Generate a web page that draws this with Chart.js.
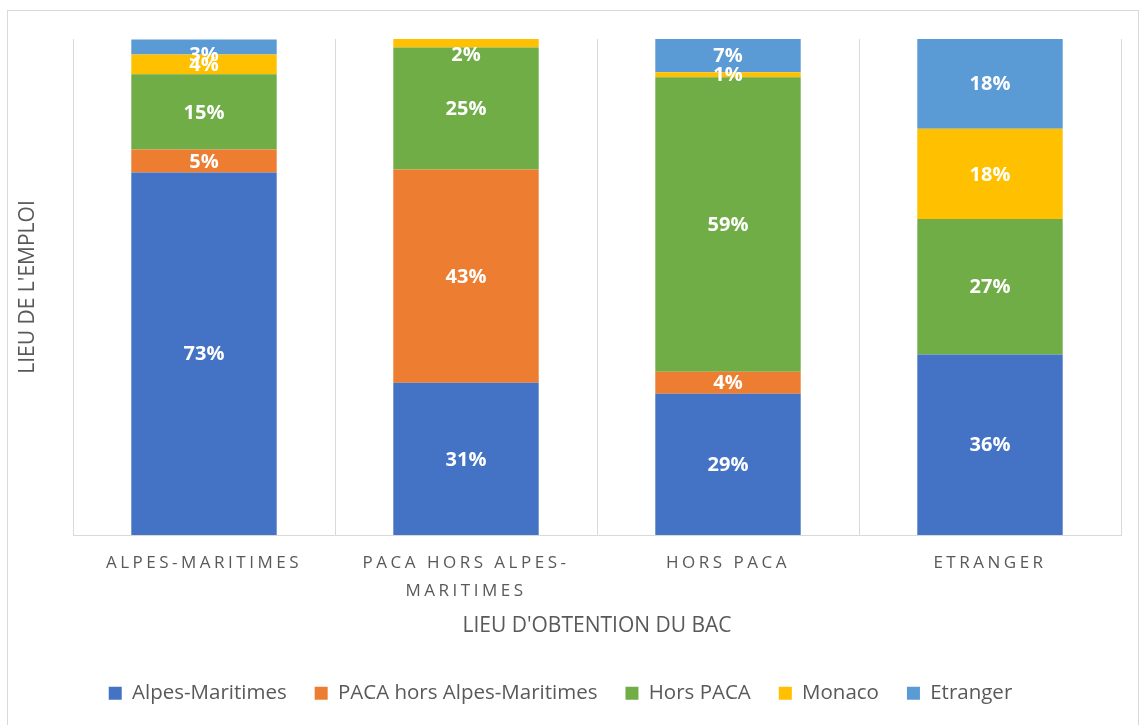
<!DOCTYPE html>
<html><head><meta charset="utf-8">
<script src="https://cdn.jsdelivr.net/npm/chart.js@4.4.1/dist/chart.umd.min.js"></script>
<style>html,body{margin:0;padding:0;background:#fff}#wrap{width:1140px;height:725px;position:relative}</style>
</head><body><div id="wrap"><canvas id="c" width="1140" height="725"></canvas></div>
<script>
const categories = [['ALPES-MARITIMES'], ['PACA HORS ALPES-', 'MARITIMES'], ['HORS PACA'], ['ETRANGER']];
const seriesNames = ['Alpes-Maritimes', 'PACA hors Alpes-Maritimes', 'Hors PACA', 'Monaco', 'Etranger'];
const valAlpesMaritimes = [73.1, 30.7, 28.5, 36.4];
const valPacaHorsAM = [4.6, 43.0, 4.4, 0];
const valHorsPaca = [15.2, 24.6, 59.4, 27.3];
const valMonaco = [4.0, 1.7, 1.0, 18.2];
const valEtranger = [3.0, 0, 6.7, 18.2];
const colors = ['#4472C4', '#ED7D31', '#70AD47', '#FFC000', '#5B9BD5'];
const xTitle = "LIEU D'OBTENTION DU BAC";
const yTitle = "LIEU DE L'EMPLOI";

const grey = '#595959';
const FONT = "'Open Sans', sans-serif";
const allValues = [valAlpesMaritimes, valPacaHorsAM, valHorsPaca, valMonaco, valEtranger];

const borderPlugin = {
  id: 'outerBorder',
  beforeDraw(chart) {
    const ctx = chart.ctx;
    ctx.save();
    ctx.fillStyle = '#fff';
    ctx.fillRect(0, 0, chart.width, chart.height);
    ctx.strokeStyle = '#D9D9D9';
    ctx.lineWidth = 1;
    ctx.strokeRect(7.5, 10.5, 1131, 720);
    ctx.restore();
    const xs = chart.scales.x;
    if (xs && !xs._spaced) {
      const orig = xs.drawLabels.bind(xs);
      xs.drawLabels = function (area) {
        const c = this.ctx; c.save(); c.letterSpacing = '3.5px'; orig(area); c.restore();
      };
      xs._spaced = true;
    }
  }
};

const labelPlugin = {
  id: 'segLabels',
  afterDatasetsDraw(chart) {
    const ctx = chart.ctx;
    const top = chart.chartArea.top;
    ctx.save();
    ctx.font = "bold 20px " + FONT;
    ctx.fillStyle = '#fff';
    ctx.textAlign = 'center';
    ctx.textBaseline = 'middle';
    chart.data.datasets.forEach((ds, i) => {
      const meta = chart.getDatasetMeta(i);
      meta.data.forEach((bar, j) => {
        const v = ds.data[j];
        if (!v) return;
        let y = (bar.y + bar.base) / 2;
        if (y < top + 15) y = top + 15;
        ctx.fillText(Math.round(v) + '%', bar.x, y + 1);
      });
    });
    ctx.restore();
  }
};

new Chart(document.getElementById('c'), {
  type: 'bar',
  data: {
    labels: categories,
    datasets: seriesNames.map((n, i) => ({
      label: n,
      data: allValues[i],
      backgroundColor: colors[i],
      borderWidth: 0,
      categoryPercentage: 1,
      barPercentage: 0.555
    }))
  },
  options: {
    responsive: false,
    animation: false,
    layout: { padding: { top: 39, right: 19, left: 0, bottom: 11.5 } },
    plugins: {
      legend: {
        position: 'bottom',
        labels: {
          boxWidth: 13, boxHeight: 13, padding: 28,
          color: grey,
          font: { family: FONT, size: 20.5 }
        }
      },
      tooltip: { enabled: false }
    },
    scales: {
      x: {
        stacked: true,
        grid: { display: true, color: '#D9D9D9', offset: true, drawTicks: false },
        border: { display: true, color: '#D9D9D9' },
        ticks: { color: grey, padding: 15, maxRotation: 0, autoSkip: false, font: { family: FONT, size: 17, lineHeight: 1.6 } },
        title: { display: true, text: xTitle, color: grey, font: { family: FONT, size: 21 }, padding: { top: 0, bottom: 16.4 } },
        afterFit(s) { s.height = 120; }
      },
      y: {
        stacked: true,
        min: 0, max: 100,
        grid: { display: false },
        border: { display: false },
        ticks: { display: false },
        title: { display: true, text: yTitle, color: grey, font: { family: FONT, size: 21 }, padding: { top: 15.4, bottom: 0 } },
        afterFit(s) { s.width = 73; }
      }
    }
  },
  plugins: [borderPlugin, labelPlugin]
});
</script></body></html>
